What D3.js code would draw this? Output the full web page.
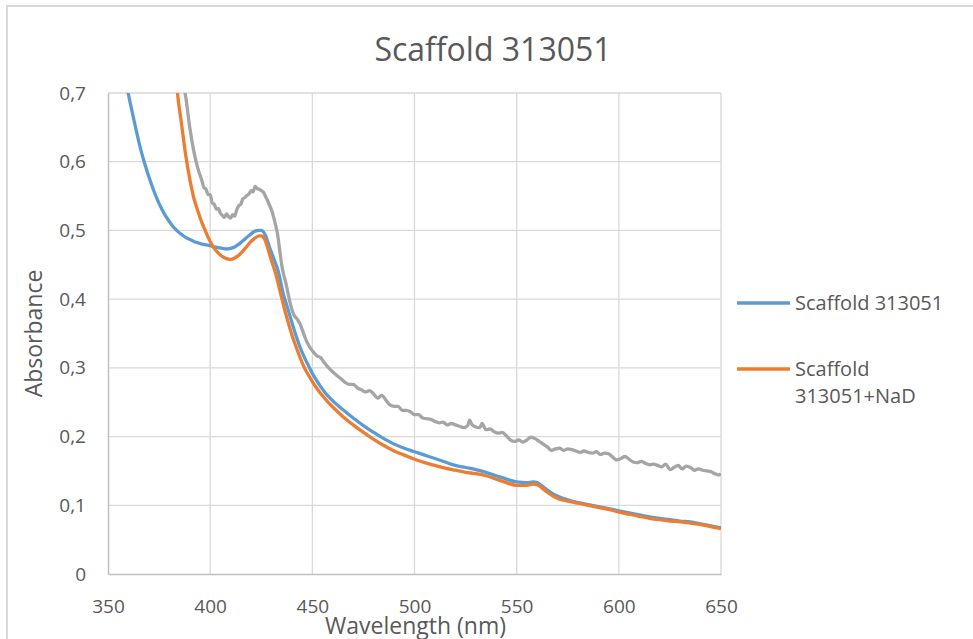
<!DOCTYPE html>
<html>
<head>
<meta charset="utf-8">
<script src="https://cdn.jsdelivr.net/npm/d3@7"></script>
<style>
  html, body { margin: 0; padding: 0; background: #fff; }
  svg { display: block; font-family: "Open Sans", "Noto Sans", sans-serif; }
</style>
</head>
<body>
<div id="chart"></div>
<script>
/* ═══ Scaffold 313051 — absorbance spectra ═══ */

const X_TICKS = [350, 400, 450, 500, 550, 600, 650];
const Y_TICKS = [0, 0.1, 0.2, 0.3, 0.4, 0.5, 0.6, 0.7];
const SERIES_NAMES = ['Scaffold 313051', 'Scaffold 313051+NaD', ''];

// wavelength (nm), absorbance
const blueWl = [355,358,360,362,364,366,368,370,372,374,376,378,380,382,384,386,388,390,392,394,396,398,400,402,404,406,408,410,412,414,416,418,420,422,424,425,426,427,428,429,430,431,432,433,434,435,436,437,438,440,442,444,446,448,450,452,454,456,458,460,465,470,475,480,485,490,495,500,505,510,515,520,525,530,535,540,545,550,555,558,560,562,565,568,571,575,580,585,590,595,600,605,610,615,620,625,630,635,640,645,650];
const blueAbs = [0.76,0.73,0.698,0.670,0.643,0.618,0.597,0.578,0.561,0.546,0.533,0.522,0.513,0.505,0.499,0.494,0.490,0.487,0.484,0.482,0.480,0.479,0.478,0.476,0.475,0.474,0.473,0.474,0.476,0.480,0.485,0.490,0.495,0.499,0.500,0.500,0.498,0.493,0.485,0.476,0.468,0.460,0.452,0.444,0.432,0.418,0.405,0.396,0.386,0.366,0.347,0.330,0.316,0.304,0.292,0.282,0.273,0.265,0.258,0.252,0.239,0.227,0.216,0.206,0.197,0.189,0.183,0.178,0.173,0.168,0.163,0.158,0.155,0.152,0.148,0.143,0.138,0.134,0.133,0.134,0.133,0.129,0.122,0.116,0.112,0.108,0.104,0.101,0.098,0.095,0.092,0.089,0.086,0.083,0.081,0.079,0.077,0.076,0.073,0.070,0.067];

const orangeWl = [382,384,386,388,390,392,394,396,398,400,402,404,406,408,410,412,414,416,418,420,422,424,425,426,427,428,429,430,431,432,433,434,435,436,438,440,442,444,446,448,450,452,454,456,458,460,465,470,475,480,485,490,495,500,505,510,515,520,525,530,535,540,545,550,555,558,560,562,565,568,571,575,580,585,590,595,600,605,610,615,620,625,630,635,640,645,650];
const orangeAbs = [0.78,0.70,0.655,0.610,0.575,0.547,0.528,0.511,0.497,0.484,0.474,0.467,0.462,0.459,0.458,0.460,0.464,0.470,0.477,0.484,0.489,0.492,0.492,0.490,0.485,0.476,0.466,0.456,0.447,0.438,0.426,0.414,0.402,0.390,0.368,0.348,0.331,0.315,0.301,0.290,0.280,0.271,0.263,0.256,0.249,0.243,0.229,0.217,0.206,0.196,0.187,0.179,0.173,0.167,0.162,0.158,0.154,0.151,0.148,0.146,0.143,0.138,0.133,0.129,0.129,0.131,0.130,0.126,0.119,0.113,0.109,0.106,0.103,0.100,0.097,0.094,0.090,0.087,0.084,0.081,0.079,0.077,0.076,0.074,0.072,0.069,0.066];

const grayWl = [386,388,390,392,394,396,397,398,399,400,401,402,403,404,405,406,407,408,409,410,411,412,413,414,415,416,417,418,419,420,421,422,423,424,425,426,427,428,429,430,431,432,433,434,435,436,437,438,439,440,441,442,443,444,445,446,447,448,449,450,452,454,456,458,460,462,464,466,468,470,472,474,476,478,480,482,484,486,488,490,492,494,496,498,500,502,504,506,508,510,512,514,516,518,520,522,524,526,527,528,530,532,533,535,537,539,541,543,545,547,549,551,553,555,557,559,561,563,565,567,569,571,573,575,577,579,581,583,585,587,589,591,593,595,597,599,601,603,605,607,609,611,613,615,617,619,621,623,625,627,629,631,633,635,637,639,641,643,645,647,649,650];
const grayAbs = [0.72,0.695,0.65,0.615,0.59,0.572,0.562,0.560,0.552,0.552,0.540,0.538,0.531,0.532,0.525,0.522,0.519,0.524,0.520,0.518,0.523,0.521,0.530,0.536,0.538,0.546,0.548,0.551,0.553,0.558,0.556,0.564,0.561,0.560,0.558,0.556,0.550,0.544,0.537,0.530,0.520,0.508,0.494,0.472,0.450,0.435,0.424,0.410,0.396,0.385,0.377,0.373,0.369,0.364,0.356,0.348,0.340,0.334,0.329,0.325,0.318,0.315,0.307,0.300,0.294,0.289,0.284,0.279,0.276,0.276,0.271,0.268,0.265,0.267,0.262,0.256,0.260,0.253,0.246,0.244,0.244,0.238,0.238,0.236,0.232,0.232,0.227,0.226,0.225,0.222,0.220,0.221,0.217,0.219,0.217,0.215,0.213,0.216,0.224,0.218,0.214,0.213,0.219,0.210,0.211,0.207,0.205,0.206,0.201,0.195,0.193,0.195,0.192,0.195,0.199,0.197,0.193,0.189,0.185,0.180,0.182,0.183,0.180,0.182,0.181,0.179,0.177,0.179,0.177,0.176,0.178,0.174,0.176,0.175,0.170,0.166,0.168,0.171,0.167,0.163,0.162,0.164,0.161,0.159,0.160,0.158,0.156,0.160,0.152,0.155,0.158,0.153,0.157,0.155,0.151,0.153,0.151,0.150,0.149,0.146,0.144,0.146];

const COLORS = ['#5b9bd5', '#ed7d31', '#a5a5a5'];
const TEXT = '#595959';

const W = 973, H = 639;
const margin = { left: 108, right: W - 721, top: 93, bottom: H - 574 };

const svg = d3.select('#chart').append('svg')
  .attr('width', W).attr('height', H);

// chart frame
svg.append('rect')
  .attr('x', 7).attr('y', 6).attr('width', W + 10).attr('height', H + 10)
  .attr('fill', 'none').attr('stroke', '#d9d9d9').attr('stroke-width', 2);

const x = d3.scaleLinear().domain([350, 650]).range([margin.left, W - margin.right]);
const y = d3.scaleLinear().domain([0, 0.7]).range([H - margin.bottom, margin.top]);

// ── Gridlines ──
svg.append('g').selectAll('line').data(Y_TICKS.slice(1)).join('line')
  .attr('x1', x(350)).attr('x2', x(650))
  .attr('y1', d => y(d)).attr('y2', d => y(d))
  .attr('stroke', '#d9d9d9').attr('stroke-width', 1.3);
svg.append('g').selectAll('line').data(X_TICKS.slice(1)).join('line')
  .attr('x1', d => x(d)).attr('x2', d => x(d))
  .attr('y1', y(0)).attr('y2', y(0.7))
  .attr('stroke', '#d9d9d9').attr('stroke-width', 1.3);

// ── Axes ──
const fmt = d => d === 0 ? '0' : d3.format('.1f')(d).replace('.', ',');
const yAxis = svg.append('g').attr('transform', `translate(${x(350)},0)`)
  .call(d3.axisLeft(y).tickValues(Y_TICKS).tickFormat(fmt).tickSize(0).tickPadding(22));
const xAxis = svg.append('g').attr('transform', `translate(0,${y(0)})`)
  .call(d3.axisBottom(x).tickValues(X_TICKS).tickSize(0).tickPadding(26));
[xAxis, yAxis].forEach(a => {
  a.select('.domain').attr('stroke', '#bfbfbf').attr('stroke-width', 1.5);
  a.selectAll('text').attr('fill', TEXT).attr('font-size', '19px')
    .attr('font-family', '"Open Sans", sans-serif');
});

// ── Lines ──
svg.append('defs').append('clipPath').attr('id', 'plotClip')
  .append('rect').attr('x', x(350)).attr('y', y(0.7))
  .attr('width', x(650) - x(350)).attr('height', y(0) - y(0.7));

const line = d3.line().x(d => x(d[0])).y(d => y(d[1])).curve(d3.curveMonotoneX);
const series = [
  d3.zip(blueWl, blueAbs),
  d3.zip(orangeWl, orangeAbs),
  d3.zip(grayWl, grayAbs)
];
const plot = svg.append('g').attr('clip-path', 'url(#plotClip)');
[2, 0, 1].forEach(i => {
  plot.append('path').datum(series[i])
    .attr('fill', 'none').attr('stroke', COLORS[i])
    .attr('stroke-width', 3.3).attr('stroke-linejoin', 'round')
    .attr('d', line);
});

// ── Titles ──
svg.append('text').attr('x', 493).attr('y', 61)
  .attr('text-anchor', 'middle').attr('fill', TEXT).attr('font-size', '32px')
  .text('Scaffold 313051');
svg.append('text').attr('x', (x(350) + x(650)) / 2 + 1).attr('y', 634)
  .attr('text-anchor', 'middle').attr('fill', TEXT).attr('font-size', '23px')
  .text('Wavelength (nm)');
svg.append('text')
  .attr('transform', `translate(42,${(y(0) + y(0.7)) / 2}) rotate(-90)`)
  .attr('text-anchor', 'middle').attr('fill', TEXT).attr('font-size', '23px')
  .text('Absorbance');

// ── Legend ──
const legend = [
  { i: 0, y: 303, lines: ['Scaffold 313051'] },
  { i: 1, y: 369, lines: ['Scaffold', '313051+NaD'] }
];
legend.forEach(l => {
  svg.append('line').attr('x1', 737).attr('x2', 790)
    .attr('y1', l.y).attr('y2', l.y)
    .attr('stroke', COLORS[l.i]).attr('stroke-width', 3.3);
  l.lines.forEach((t, k) => {
    svg.append('text').attr('x', 795).attr('y', l.y + 7 + k * 27)
      .attr('fill', TEXT).attr('font-size', '20px').text(t);
  });
});
</script>
</body>
</html>
